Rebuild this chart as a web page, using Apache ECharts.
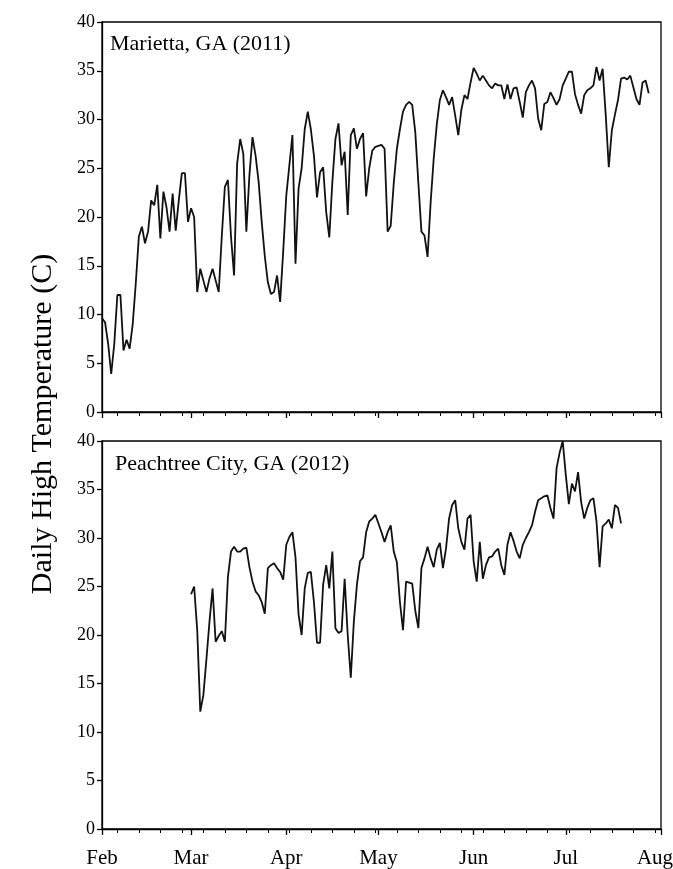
<!DOCTYPE html>
<html>
<head>
<meta charset="utf-8">
<script src="https://cdn.jsdelivr.net/npm/echarts@6/dist/echarts.min.js"></script>
<style>
    html, body { margin: 0; padding: 0; background: #fff; }
    #main { width: 673px; height: 869px; }
</style>
</head>
<body>
<div id="main"></div>
<script>
// x axis is day index counted from Feb 1 (0) to Aug 1 (182)
var monthNames = ['Feb', 'Mar', 'Apr', 'May', 'Jun', 'Jul', 'Aug'];
var monthDays = [0, 29, 60, 90, 121, 151, 182];
var weekDays = [5, 12, 19, 26, 33, 40, 47, 54, 61, 68, 75, 82, 89, 96, 103, 110,
    117, 124, 131, 138, 145, 152, 159, 166, 173, 180];

// Marietta, GA (2011), daily highs starting Feb 1
var mariettaStart = 0;
var marietta = [
    9.6, 9.2, 7.0, 3.9, 7.0, 12.0, 12.0, 6.3, 7.4, 6.5,
    9.0, 13.2, 18.0, 19.0, 17.3, 18.5, 21.7, 21.2, 23.3, 17.8,
    22.6, 21.0, 18.5, 22.4, 18.6, 21.7, 24.5, 24.5, 19.5, 20.9,
    20.0, 12.3, 14.7, 13.5, 12.3, 13.7, 14.7, 13.5, 12.3, 18.0,
    23.1, 23.8, 18.0, 14.0, 25.5, 28.0, 26.5, 18.5, 24.3, 28.2,
    26.3, 23.6, 19.5, 16.0, 13.3, 12.1, 12.3, 14.0, 11.3, 16.5,
    22.2, 25.3, 28.4, 15.2, 22.9, 25.0, 29.0, 30.8, 29.0, 26.3,
    22.0, 24.6, 25.1, 20.5, 17.9, 23.6, 28.0, 29.6, 25.3, 26.7,
    20.2, 28.4, 29.1, 27.0, 28.0, 28.6, 22.1, 25.0, 26.8, 27.2,
    27.3, 27.4, 27.0, 18.5, 19.1, 23.5, 27.0, 29.0, 30.8, 31.5,
    31.8, 31.5, 28.7, 23.5, 18.5, 18.1, 15.9, 21.5, 26.0, 29.5,
    32.0, 33.0, 32.3, 31.5, 32.3, 30.4, 28.4, 31.0, 32.5, 32.1,
    33.8, 35.3, 34.7, 34.0, 34.5, 34.0, 33.5, 33.2, 33.7, 33.5,
    33.5, 32.1, 33.6, 32.1, 33.2, 33.3, 31.8, 30.2, 32.8, 33.5,
    34.0, 33.2, 30.1, 28.9, 31.6, 31.8, 32.8, 32.2, 31.5, 32.1,
    33.5, 34.2, 34.9, 34.9, 32.6, 31.5, 30.6, 32.5, 33.0, 33.2,
    33.5, 35.4, 34.0, 35.2, 30.5, 25.1, 28.9, 30.5, 32.0, 34.2,
    34.3, 34.1, 34.5, 33.3, 32.1, 31.5, 33.8, 34.0, 32.7
];

// Peachtree City, GA (2012), daily highs starting Mar 1
var peachtreeStart = 29;
var peachtree = [
    24.2, 25.0, 20.5, 12.1, 13.8, 17.5, 21.4, 24.8, 19.3, 19.9,
    20.4, 19.3, 26.0, 28.6, 29.1, 28.6, 28.6, 28.9, 29.0, 27.0,
    25.5, 24.5, 24.1, 23.4, 22.2, 26.9, 27.2, 27.4, 26.9, 26.5,
    25.7, 29.3, 30.1, 30.6, 28.0, 22.1, 20.0, 24.8, 26.4, 26.5,
    23.4, 19.2, 19.2, 25.2, 27.2, 24.8, 28.6, 20.7, 20.2, 20.4,
    25.8, 20.0, 15.6, 21.4, 25.2, 27.6, 28.0, 30.6, 31.7, 32.0,
    32.4, 31.5, 30.6, 29.6, 30.6, 31.3, 28.6, 27.5, 23.4, 20.5,
    25.5, 25.4, 25.3, 22.5, 20.7, 26.9, 27.9, 29.1, 27.9, 27.0,
    28.8, 29.5, 26.9, 28.9, 32.0, 33.4, 33.9, 31.0, 29.6, 28.8,
    32.0, 32.4, 27.6, 25.5, 29.6, 25.8, 27.2, 28.0, 28.1, 28.6,
    28.9, 27.2, 26.2, 29.3, 30.6, 29.7, 28.6, 27.9, 29.3, 30.0,
    30.6, 31.3, 32.7, 33.9, 34.1, 34.3, 34.4, 33.1, 32.0, 37.2,
    38.8, 40.0, 36.5, 33.5, 35.6, 34.8, 36.8, 33.7, 32.0, 33.1,
    33.9, 34.1, 31.7, 27.0, 31.2, 31.5, 31.9, 31.0, 33.4, 33.1,
    31.5
];

var FONT = '"Liberation Serif", "Times New Roman", serif';

function toPairs(start, values) {
    var out = [];
    for (var i = 0; i < values.length; i++) {
        out.push([start + i, values[i]]);
    }
    return out;
}

function monthAxis(grid, showLabels) {
    return {
        type: 'value',
        gridIndex: grid,
        min: 0,
        max: 182,
        position: 'bottom',
        axisLine: { show: true, onZero: false, lineStyle: { color: '#000', width: 1.3 } },
        axisTick: { show: true, inside: false, length: 6, customValues: monthDays,
            lineStyle: { color: '#000', width: 1.3 } },
        axisLabel: {
            show: showLabels,
            customValues: monthDays,
            margin: 19,
            fontFamily: FONT,
            fontSize: 21,
            color: '#000',
            formatter: function (v) {
                var name = monthNames[monthDays.indexOf(v)];
                // last label sits at the right edge, nudge it inside the canvas
                return v === 182 ? '{last|' + name + '}' : name;
            },
            rich: {
                last: { fontFamily: FONT, fontSize: 21, color: '#000', padding: [0, 12, 0, 0] }
            }
        },
        splitLine: { show: false }
    };
}

function weekAxis(grid) {
    return {
        type: 'value',
        gridIndex: grid,
        min: 0,
        max: 182,
        position: 'bottom',
        axisLine: { show: false },
        axisTick: { show: true, inside: false, length: 4, customValues: weekDays,
            lineStyle: { color: '#000', width: 1 } },
        axisLabel: { show: false },
        splitLine: { show: false }
    };
}

function tempAxis(grid) {
    return {
        type: 'value',
        gridIndex: grid,
        min: 0,
        max: 40,
        interval: 5,
        axisLine: { show: true, lineStyle: { color: '#000', width: 1.3 } },
        axisTick: { show: true, inside: false, length: 5, lineStyle: { color: '#000', width: 1.3 } },
        axisLabel: { margin: 7, fontFamily: FONT, fontSize: 18, color: '#000' },
        splitLine: { show: false }
    };
}

var chart = echarts.init(document.getElementById('main'), null, { renderer: 'canvas' });

var option = {
    animation: false,
    backgroundColor: '#fff',
    grid: [
        { left: 102, right: 12, top: 22, height: 390, show: true, borderColor: '#000', borderWidth: 1.3,
          outerBoundsMode: 'none', containLabel: false },
        { left: 102, right: 12, top: 441, height: 388, show: true, borderColor: '#000', borderWidth: 1.3,
          outerBoundsMode: 'none', containLabel: false }
    ],
    xAxis: [monthAxis(0, false), weekAxis(0), monthAxis(1, true), weekAxis(1)],
    yAxis: [tempAxis(0), tempAxis(1)],
    series: [
        {
            name: 'Marietta, GA (2011)',
            type: 'line',
            xAxisIndex: 0,
            yAxisIndex: 0,
            data: toPairs(mariettaStart, marietta),
            symbol: 'none',
            lineStyle: { color: '#111', width: 1.8 }
        },
        {
            name: 'Peachtree City, GA (2012)',
            type: 'line',
            xAxisIndex: 2,
            yAxisIndex: 1,
            data: toPairs(peachtreeStart, peachtree),
            symbol: 'none',
            clip: false,
            lineStyle: { color: '#111', width: 1.8 }
        }
    ],
    graphic: [
        {
            type: 'text', left: 110, top: 33,
            style: { text: 'Marietta, GA (2011)', font: '22px ' + FONT, fill: '#000' }
        },
        {
            type: 'text', left: 115, top: 453,
            style: { text: 'Peachtree City, GA (2012)', font: '22px ' + FONT, fill: '#000' }
        },
        {
            type: 'text', x: 43, y: 424, rotation: Math.PI / 2,
            style: {
                text: 'Daily High Temperature (C)', font: '30px ' + FONT, fill: '#000',
                align: 'center', verticalAlign: 'middle'
            }
        }
    ]
};

chart.setOption(option);
</script>
</body>
</html>
